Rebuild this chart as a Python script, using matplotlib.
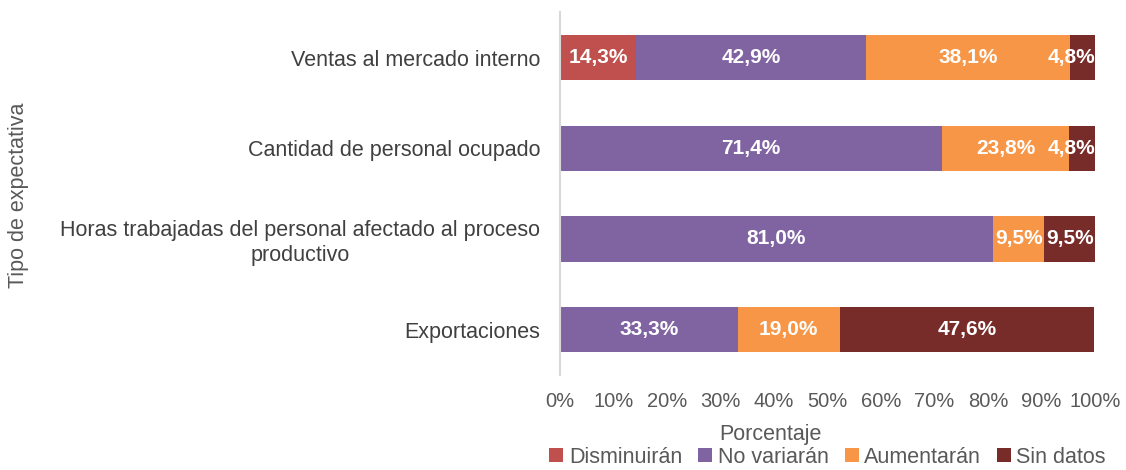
import numpy as np
import matplotlib.pyplot as plt

plt.rcParams['font.family'] = ['Liberation Sans', 'DejaVu Sans']

# Data (percentages), top to bottom as in the chart
categorias = ['Ventas al mercado interno',
              'Cantidad de personal ocupado',
              'Horas trabajadas del personal afectado al proceso\nproductivo',
              'Exportaciones']
series = ['Disminuirán', 'No variarán', 'Aumentarán', 'Sin datos']
disminuiran = [14.3, 0.0, 0.0, 0.0]
no_variaran = [42.9, 71.4, 81.0, 33.3]
aumentaran = [38.1, 23.8, 9.5, 19.0]
sin_datos = [4.8, 4.8, 9.5, 47.6]
colores = ['#C0504D', '#8064A2', '#F79646', '#772C2A']

valores = [disminuiran, no_variaran, aumentaran, sin_datos]

fig = plt.figure(figsize=(11.26, 4.70), dpi=100)
ax = fig.add_axes([0.497, 0.202, 0.4755, 0.772])

y = np.arange(len(categorias))
left = np.zeros(len(categorias))
for nombre, vals, col in zip(series, valores, colores):
    vals = np.array(vals)
    ax.barh(y, vals, left=left, height=0.5, color=col, label=nombre)
    for yi, l, v in zip(y, left, vals):
        if v <= 0:
            continue
        txt = f'{v:.1f}%'.replace('.', ',')
        if l + v >= 99.9 and v < 6:
            # small end segment: keep the label inside the plot
            ax.text(100, yi, txt, ha='right', va='center', color='white',
                    fontsize=15, fontweight='bold')
        else:
            ax.text(l + v / 2, yi, txt, ha='center', va='center', color='white',
                    fontsize=15, fontweight='bold')
    left += vals

ax.set_xlim(0, 100)
ax.set_ylim(3.5, -0.5)
ax.set_yticks(y)
ax.set_yticklabels(categorias, fontsize=15.5, color='#404040', multialignment='center')
ax.set_xticks(np.arange(0, 101, 10))
ax.set_xticklabels([f'{t}%' for t in range(0, 101, 10)], fontsize=14.5, color='#595959')
ax.tick_params(axis='both', length=0)
ax.tick_params(axis='x', pad=12)
ax.tick_params(axis='y', pad=14)

for s in ['top', 'right', 'bottom']:
    ax.spines[s].set_visible(False)
ax.spines['left'].set_color('#D9D9D9')
ax.spines['left'].set_linewidth(1.5)

fig.text(0.684, 0.0745, 'Porcentaje', ha='center', va='center',
         fontsize=15.5, color='#595959')
fig.text(0.016, 0.585, 'Tipo de expectativa', rotation=90, ha='center', va='center',
         fontsize=15.5, color='#595959')

fig.legend(loc='center', bbox_to_anchor=(0.735, 0.027), ncol=4, frameon=False,
           fontsize=15.5, handlelength=0.65, handleheight=0.65, handletextpad=0.25,
           columnspacing=0.75, labelcolor='#595959', borderpad=0, borderaxespad=0)

fig.savefig('out.png', dpi=100)
